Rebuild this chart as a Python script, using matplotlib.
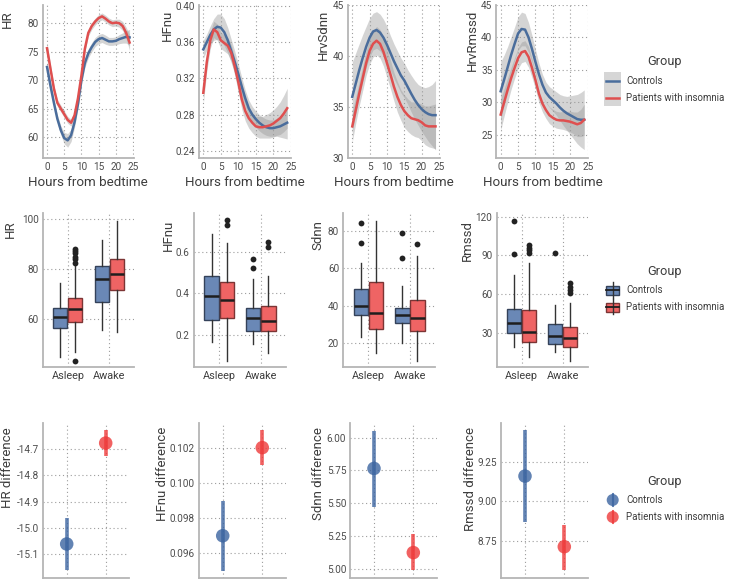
import matplotlib
matplotlib.use('Agg')
import matplotlib.pyplot as plt
from matplotlib.patches import Rectangle, Ellipse
from matplotlib.lines import Line2D

plt.rcParams['font.family'] = ['Roboto', 'DejaVu Sans']
plt.rcParams['axes.unicode_minus'] = False

# ---------------- data ----------------
groups = ["Controls", "Patients with insomnia"]
hours = list(range(0, 25))

hr_ctrl = [72.3, 69.0, 66.0, 63.2, 61.2, 59.8, 59.4, 60.3, 62.6, 65.8, 70.0, 73.0, 74.7, 75.8, 76.7, 77.2, 77.4, 77.1, 76.8, 76.8, 76.9, 77.2, 77.4, 77.6, 77.5]
hr_ctrl_se = [1.0, 0.8, 0.7, 0.7, 0.8, 1.0, 1.2, 1.1, 0.9, 0.8, 0.8, 0.8, 0.8, 0.8, 0.8, 0.8, 0.8, 0.8, 0.7, 0.7, 0.7, 0.8, 0.9, 1.1, 1.4]
hr_ins = [75.6, 72.0, 68.5, 66.0, 65.0, 64.0, 63.0, 62.5, 63.8, 66.8, 70.8, 75.5, 78.3, 79.5, 80.3, 80.9, 81.2, 80.8, 80.3, 80.0, 80.1, 80.0, 79.5, 78.3, 76.6]
hr_ins_se = [0.9, 0.7, 0.6, 0.6, 0.6, 0.6, 0.6, 0.6, 0.6, 0.6, 0.6, 0.6, 0.6, 0.6, 0.6, 0.6, 0.6, 0.6, 0.6, 0.6, 0.6, 0.7, 0.8, 1.0, 1.4]

hf_ctrl = [0.352, 0.360, 0.368, 0.374, 0.377, 0.376, 0.371, 0.362, 0.350, 0.338, 0.325, 0.311, 0.298, 0.287, 0.280, 0.275, 0.271, 0.268, 0.266, 0.265, 0.265, 0.266, 0.267, 0.269, 0.271]
hf_ctrl_se = [0.010, 0.009, 0.010, 0.012, 0.014, 0.015, 0.015, 0.014, 0.013, 0.012, 0.011, 0.010, 0.009, 0.009, 0.009, 0.009, 0.009, 0.009, 0.009, 0.009, 0.009, 0.010, 0.012, 0.015, 0.018]
hf_ins = [0.304, 0.338, 0.362, 0.374, 0.371, 0.362, 0.359, 0.356, 0.348, 0.333, 0.316, 0.297, 0.284, 0.276, 0.271, 0.267, 0.266, 0.266, 0.267, 0.268, 0.270, 0.273, 0.276, 0.281, 0.287]
hf_ins_se = [0.012, 0.010, 0.009, 0.009, 0.009, 0.009, 0.009, 0.009, 0.009, 0.010, 0.011, 0.011, 0.011, 0.011, 0.011, 0.011, 0.012, 0.012, 0.013, 0.014, 0.015, 0.016, 0.018, 0.020, 0.022]

sd_ctrl = [36.0, 37.3, 38.6, 39.8, 40.9, 41.8, 42.4, 42.55, 42.3, 41.8, 41.1, 40.3, 39.5, 38.8, 38.1, 37.6, 36.95, 36.3, 35.7, 35.2, 34.8, 34.5, 34.3, 34.2, 34.2]
sd_ctrl_se = [3.4, 3.0, 2.6, 2.3, 2.0, 1.9, 1.8, 1.8, 1.8, 1.8, 1.8, 1.7, 1.7, 1.7, 1.7, 1.7, 1.7, 1.8, 1.9, 2.0, 2.2, 2.4, 2.7, 3.0, 3.4]
sd_ins = [33.1, 34.7, 36.3, 37.8, 39.3, 40.5, 41.2, 41.5, 41.2, 40.4, 39.3, 38.2, 37.0, 36.0, 35.2, 34.6, 34.2, 33.9, 33.8, 33.7, 33.5, 33.2, 33.1, 33.1, 33.1]
sd_ins_se = [1.5, 1.3, 1.2, 1.2, 1.2, 1.3, 1.3, 1.4, 1.4, 1.4, 1.4, 1.4, 1.4, 1.5, 1.5, 1.6, 1.6, 1.6, 1.7, 1.7, 1.8, 1.9, 2.0, 2.1, 2.2]

rm_ctrl = [31.7, 33.5, 35.4, 37.3, 39.0, 40.6, 41.3, 41.2, 40.0, 38.2, 36.2, 34.3, 32.7, 31.5, 30.8, 30.3, 29.8, 29.2, 28.7, 28.3, 28.0, 27.7, 27.4, 27.3, 27.3]
rm_ctrl_se = [4.5, 3.8, 3.2, 2.8, 2.6, 2.6, 2.6, 2.5, 2.3, 2.1, 1.9, 1.7, 1.6, 1.6, 1.6, 1.7, 1.8, 2.0, 2.3, 2.6, 3.0, 3.4, 3.8, 4.2, 4.6]
rm_ins = [28.1, 30.0, 31.9, 33.7, 35.3, 36.8, 37.7, 37.9, 37.0, 35.3, 33.4, 31.3, 29.8, 28.8, 28.0, 27.6, 27.3, 27.2, 27.2, 27.1, 27.0, 26.8, 26.6, 26.8, 27.3]
rm_ins_se = [2.4, 2.1, 1.9, 1.7, 1.6, 1.6, 1.6, 1.6, 1.6, 1.5, 1.4, 1.4, 1.3, 1.3, 1.3, 1.3, 1.3, 1.3, 1.4, 1.5, 1.6, 1.7, 1.9, 2.1, 2.4]

states = ["Asleep", "Awake"]
# box stats: [whisker_lo, q1, median, q3, whisker_hi], fliers ; order: (Asleep ctrl, Asleep ins, Awake ctrl, Awake ins)
hr_box = [[44.9, 56.3, 60.9, 64.5, 74.3], [46.9, 58.9, 64.0, 68.3, 81.6], [55.6, 66.7, 76.0, 81.3, 91.6], [54.9, 71.6, 78.0, 84.0, 99.3]]
hr_fliers = [[], [82.5, 83.9, 85.0, 86.3, 87.3, 88.0, 43.2], [], []]
hfnu_box = [[0.168, 0.272, 0.387, 0.485, 0.685], [0.077, 0.283, 0.368, 0.453, 0.643], [0.157, 0.219, 0.282, 0.331, 0.467], [0.112, 0.221, 0.266, 0.339, 0.483]]
hfnu_fliers = [[], [0.752, 0.728], [0.563, 0.520], [0.645, 0.624]]
sdnn_box = [[23.0, 34.8, 39.8, 48.75, 62.7], [14.8, 27.3, 36.25, 52.9, 85.4], [19.8, 30.9, 35.2, 38.9, 50.5], [10.5, 26.4, 33.6, 43.0, 66.6]]
sdnn_fliers = [[84.5, 73.75], [], [79.1, 65.7], [73.0]]
rmssd_box = [[19.1, 29.5, 37.2, 48.4, 74.7], [10.9, 23.0, 30.8, 47.6, 83.8], [14.7, 21.0, 27.4, 36.5, 51.5], [8.3, 18.6, 25.6, 34.7, 53.3]]
rmssd_fliers = [[116.9, 90.8], [98.0, 96.0, 94.1, 91.6], [91.6], [68.3, 65.2, 63.1, 60.5]]

# difference estimates: [ctrl, ins] with lower/upper
hr_diff = [-15.061, -14.678]
hr_diff_lo = [-15.160, -14.729]
hr_diff_hi = [-14.963, -14.628]
hfnu_diff = [0.0970, 0.1020]
hfnu_diff_lo = [0.0950, 0.1010]
hfnu_diff_hi = [0.0990, 0.1030]
sdnn_diff = [5.765, 5.122]
sdnn_diff_lo = [5.472, 4.987]
sdnn_diff_hi = [6.054, 5.263]
rmssd_diff = [9.159, 8.712]
rmssd_diff_lo = [8.870, 8.564]
rmssd_diff_hi = [9.450, 8.849]

# ---------------- style ----------------
BLUE_LINE = '#4a6d9c'
RED_LINE = '#df4f4f'
BLUE_BOX = '#6a88b6'
RED_BOX = '#ef6464'
BLUE_EDGE = '#34425a'
RED_EDGE = '#7c3535'
BLUE_PT = '#3b64a0'
RED_PT = '#ee3a3a'
TXT = '#3d3d3d'
TICK = '#4d4d4d'

W, H = 729, 580
fig = plt.figure(figsize=(W / 100, H / 100), dpi=100)
fig.patch.set_facecolor('white')


def add_ax(l, t, r, b):
    return fig.add_axes([l / W, 1 - b / H, (r - l) / W, (b - t) / H])


def style(ax):
    for s in ['top', 'right']:
        ax.spines[s].set_visible(False)
    for s in ['left', 'bottom']:
        ax.spines[s].set_color('#b5b5b5')
        ax.spines[s].set_linewidth(1.3)
    ax.tick_params(length=0, labelsize=7.2, colors=TICK, pad=3)
    ax.grid(True, color='#9c9c9c', linestyle=(0, (1, 2.5)), linewidth=0.8)
    ax.set_axisbelow(True)


def ylab(x, y, s):
    fig.text(x / W, 1 - y / H, s, rotation=90, ha='center', va='top', fontsize=9.5, color=TXT)


# ---------------- row 1 : smooth curves ----------------
row1 = [
    ((42.9, 5, 133.7, 158), hr_ctrl, hr_ctrl_se, hr_ins, hr_ins_se, (56.3, 83.2), [60, 65, 70, 75, 80], "{:.0f}", 'HR', 7),
    ((199.1, 5, 291.4, 158), hf_ctrl, hf_ctrl_se, hf_ins, hf_ins_se, (0.232, 0.401), [0.24, 0.28, 0.32, 0.36, 0.40], "{:.2f}", 'HFnu', 167),
    ((348.1, 5, 439.7, 158), sd_ctrl, sd_ctrl_se, sd_ins, sd_ins_se, (30, 45), [30, 35, 40, 45], "{:.0f}", 'HrvSdnn', 323),
    ((496.5, 5, 588.4, 158), rm_ctrl, rm_ctrl_se, rm_ins, rm_ins_se, (21.4, 45), [25, 30, 35, 40, 45], "{:.0f}", 'HrvRmssd', 472),
]
for pos, c, cse, p, pse, yl, yt, fmt, lab, lx in row1:
    ax = add_ax(*pos)
    style(ax)
    for m, se, col in [(c, cse, BLUE_LINE), (p, pse, RED_LINE)]:
        lo = [a - b for a, b in zip(m, se)]
        hi = [a + b for a, b in zip(m, se)]
        ax.fill_between(hours, lo, hi, color='#9a9a9a', alpha=0.42, linewidth=0)
    ax.plot(hours, c, color=BLUE_LINE, lw=1.8)
    ax.plot(hours, p, color=RED_LINE, lw=1.8)
    ax.set_xlim(-1.2, 25.2)
    ax.set_ylim(*yl)
    ax.set_xticks([0, 5, 10, 15, 20, 25])
    ax.set_yticks(yt)
    ax.set_yticklabels([fmt.format(v) for v in yt])
    ax.set_xlabel('Hours from bedtime', fontsize=9.6, color=TXT, labelpad=3)
    ylab(lx, 10, lab)

# ---------------- row 2 : boxplots ----------------
row2 = [
    ((43, 213.3, 134.3, 366.7), hr_box, hr_fliers, (40.9, 102.3), [60, 80, 100], "{:.0f}", 'HR', 10),
    ((194, 213.3, 286, 366.7), hfnu_box, hfnu_fliers, (0.048, 0.784), [0.2, 0.4, 0.6], "{:.1f}", 'HFnu', 168),
    ((343.3, 213.3, 435, 366.7), sdnn_box, sdnn_fliers, (7.3, 89.5), [20, 40, 60, 80], "{:.0f}", 'Sdnn', 318),
    ((496.7, 213.3, 587.7, 366.7), rmssd_box, rmssd_fliers, (3.6, 122.6), [30, 60, 90, 120], "{:.0f}", 'Rmssd', 467),
]
for pos, box, fl, yl, yt, fmt, lab, lx in row2:
    ax = add_ax(*pos)
    style(ax)
    positions = [1 - 0.18, 1 + 0.18, 2 - 0.18, 2 + 0.18]
    stats = []
    for b, f in zip(box, fl):
        stats.append(dict(whislo=b[0], q1=b[1], med=b[2], q3=b[3], whishi=b[4], fliers=f))
    bp = ax.bxp(stats, positions=positions, widths=0.34, patch_artist=True, showcaps=False,
                medianprops=dict(color='#1e1e1e', lw=1.8),
                whiskerprops=dict(color='#333333', lw=1.0),
                flierprops=dict(marker='o', markerfacecolor='#222222', markeredgecolor='none', markersize=4.2))
    for i, patch in enumerate(bp['boxes']):
        ctrl = i % 2 == 0
        patch.set_facecolor(BLUE_BOX if ctrl else RED_BOX)
        patch.set_edgecolor(BLUE_EDGE if ctrl else RED_EDGE)
        patch.set_linewidth(1.0)
    ax.set_xlim(0.4, 2.6)
    ax.set_ylim(*yl)
    ax.set_xticks([1, 2])
    ax.set_xticklabels(states)
    ax.tick_params(axis='x', labelsize=7.8, colors=TXT)
    ax.set_yticks(yt)
    ax.set_yticklabels([fmt.format(v) for v in yt])
    ylab(lx, 220, lab)

# ---------------- row 3 : difference estimates ----------------
row3 = [
    ((43.3, 423.3, 129.1, 577.7), hr_diff, hr_diff_lo, hr_diff_hi, (-15.189, -14.603), [-15.1, -15.0, -14.9, -14.8, -14.7], "{:.1f}", 'HR difference', 8),
    ((199, 423.3, 286, 577.7), hfnu_diff, hfnu_diff_lo, hfnu_diff_hi, (0.09462, 0.10338), [0.096, 0.098, 0.100, 0.102], "{:.3f}", 'HFnu difference', 162),
    ((350.4, 423.3, 436.9, 577.7), sdnn_diff, sdnn_diff_lo, sdnn_diff_hi, (4.93, 6.11), [5.00, 5.25, 5.50, 5.75, 6.00], "{:.2f}", 'Sdnn difference', 318),
    ((501.4, 423.3, 587.9, 577.7), rmssd_diff, rmssd_diff_lo, rmssd_diff_hi, (8.516, 9.493), [8.75, 9.00, 9.25], "{:.2f}", 'Rmssd difference', 470),
]
for pos, est, lo, hi, yl, yt, fmt, lab, lx in row3:
    ax = add_ax(*pos)
    style(ax)
    for i, col in enumerate([BLUE_PT, RED_PT]):
        ax.vlines(i + 1, lo[i], hi[i], color=col, lw=2.6, alpha=0.8, zorder=3)
        ax.scatter([i + 1], [est[i]], s=95, color=col, alpha=0.8, edgecolors='none', zorder=4)
    ax.set_xlim(0.4, 2.6)
    ax.set_ylim(*yl)
    ax.set_xticks([1, 2])
    ax.set_xticklabels([])
    ax.set_yticks(yt)
    ax.set_yticklabels([fmt.format(v) for v in yt])
    ylab(lx, 427, lab)

# ---------------- legends ----------------
def fx(x):
    return x / W


def fy(y):
    return 1 - y / H


def legend_text(title_y, y1, y2):
    fig.text(fx(665), fy(title_y), 'Group', ha='center', va='center', fontsize=9.2, color=TXT)
    fig.text(fx(626), fy(y1), groups[0], ha='left', va='center', fontsize=7.0, color=TXT)
    fig.text(fx(626), fy(y2), groups[1], ha='left', va='center', fontsize=7.0, color=TXT)


# legend 1 (lines with ribbons)
legend_text(62, 81, 98)
fig.add_artist(Rectangle((fx(604), fy(106)), (621 - 604) / W, (106 - 72) / H, transform=fig.transFigure,
                         facecolor='#d6d6d6', edgecolor='none'))
for y, col in [(81, BLUE_LINE), (98, RED_LINE)]:
    fig.add_artist(Line2D([fx(606), fx(619)], [fy(y), fy(y)], transform=fig.transFigure, color=col, lw=1.8))

# legend 2 (boxes)
legend_text(272, 290, 307)
for y, fc, ec in [(290, BLUE_BOX, BLUE_EDGE), (307, RED_BOX, RED_EDGE)]:
    fig.add_artist(Line2D([fx(612.5), fx(612.5)], [fy(y - 7.5), fy(y + 7.5)], transform=fig.transFigure, color='#333333', lw=1.0))
    fig.add_artist(Rectangle((fx(606), fy(y + 4.5)), 13 / W, 9 / H, transform=fig.transFigure,
                             facecolor=fc, edgecolor=ec, lw=1.0))
    fig.add_artist(Line2D([fx(606), fx(619)], [fy(y), fy(y)], transform=fig.transFigure, color='#1e1e1e', lw=1.3))

# legend 3 (points)
legend_text(481, 500, 517)
for y, col in [(500, BLUE_PT), (517, RED_PT)]:
    fig.add_artist(Line2D([fx(612.7), fx(612.7)], [fy(y - 6), fy(y + 6)], transform=fig.transFigure, color=col, lw=1.5, alpha=0.8))
    fig.add_artist(Ellipse((fx(612.7), fy(y)), 12 / W, 12 / H, transform=fig.transFigure,
                           facecolor=col, edgecolor='none', alpha=0.8))

fig.savefig('out.png', dpi=100, facecolor='white')
